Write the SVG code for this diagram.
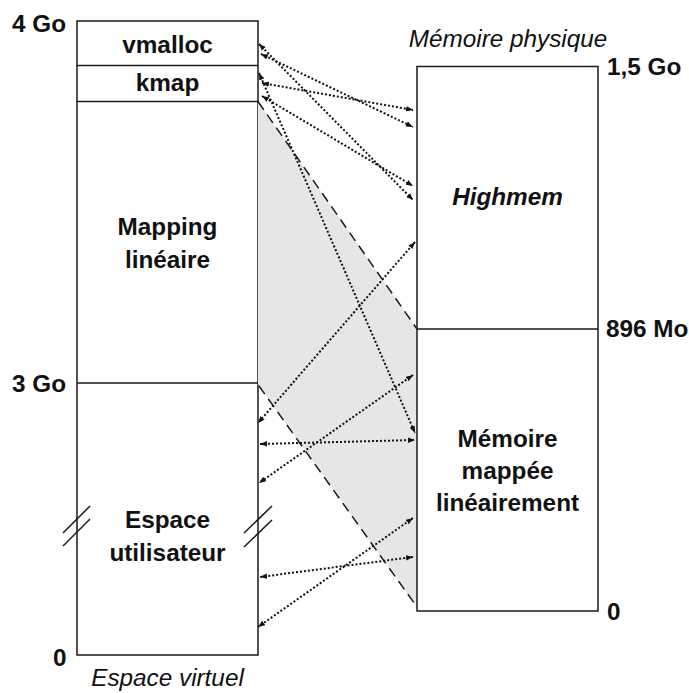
<svg xmlns="http://www.w3.org/2000/svg" width="689" height="693" viewBox="0 0 689 693">
<defs>
<style>
.box{fill:#fff;stroke:#1a1a1a;stroke-width:1.5}
.sep{stroke:#1a1a1a;stroke-width:1.5;fill:none}
.t{font-family:"Liberation Sans",Arial,sans-serif;font-size:24.3px;fill:#111}
.b{font-weight:bold}
.i{font-style:italic}
.c{text-anchor:middle}
.dash{stroke:#1a1a1a;stroke-width:1.5;stroke-dasharray:10 6;fill:none}
.arr{stroke:#111;stroke-width:2;stroke-dasharray:2 2;fill:none;marker-start:url(#ah);marker-end:url(#ah)}
</style>
<marker id="ah" markerUnits="userSpaceOnUse" markerWidth="8" markerHeight="6" refX="7" refY="3" orient="auto-start-reverse" viewBox="0 0 8 6">
<path d="M0,0.3 L7,3 L0,5.7 z" fill="#111"/>
</marker>
</defs>
<rect width="689" height="693" fill="#fff"/>

<g id="virtual-space">
<rect class="box" x="77" y="21" width="181" height="634"/>
<line class="sep" x1="77" y1="65.5" x2="258" y2="65.5"/>
<line class="sep" x1="77" y1="101.5" x2="258" y2="101.5"/>
<line class="sep" x1="77" y1="383" x2="258" y2="383"/>
<line class="sep" x1="63" y1="533" x2="90" y2="506"/>
<line class="sep" x1="63" y1="546" x2="90" y2="519"/>
<line class="sep" x1="244" y1="533" x2="272" y2="506"/>
<line class="sep" x1="244" y1="547" x2="272" y2="520"/>
</g>

<g id="shade">
<polygon points="258,101.5 417,329 417,607 258,384" fill="#e6e6e6"/>
</g>

<g id="physical-memory">
<rect class="box" x="417" y="66.5" width="181" height="544.5"/>
<line class="sep" x1="417" y1="329" x2="598" y2="329"/>
</g>

<g id="labels">
<text class="t b" x="12" y="32">4 Go</text>
<text class="t b c" x="167.5" y="53">vmalloc</text>
<text class="t b c" x="167.5" y="91">kmap</text>
<text class="t b c" x="167.5" y="235">Mapping</text>
<text class="t b c" x="167.5" y="268">linéaire</text>
<text class="t b" x="12" y="392">3 Go</text>
<text class="t b c" x="167.5" y="528">Espace</text>
<text class="t b c" x="167.5" y="561">utilisateur</text>
<text class="t b" x="53" y="666">0</text>
<text class="t i c" x="167.5" y="686">Espace virtuel</text>
<text class="t i c" x="508" y="47">Mémoire physique</text>
<text class="t b" x="607" y="75">1,5 Go</text>
<text class="t b i c" x="507.5" y="205">Highmem</text>
<text class="t b" x="606" y="337">896 Mo</text>
<text class="t b c" x="507.5" y="447">Mémoire</text>
<text class="t b c" x="507.5" y="479">mappée</text>
<text class="t b c" x="507.5" y="511">linéairement</text>
<text class="t b" x="607" y="620">0</text>
</g>

<g id="connectors">
<line class="dash" x1="258" y1="101.5" x2="417" y2="329"/>
<line class="dash" x1="259" y1="386" x2="417" y2="607"/>
<line class="arr" x1="259" y1="44" x2="413" y2="200"/>
<line class="arr" x1="261" y1="54" x2="413" y2="127"/>
<line class="arr" x1="259" y1="73" x2="415" y2="433"/>
<line class="arr" x1="262" y1="83" x2="413" y2="110"/>
<line class="arr" x1="262" y1="96" x2="413" y2="186"/>
<line class="arr" x1="415" y1="242" x2="258" y2="423"/>
<line class="arr" x1="413" y1="375" x2="259" y2="483"/>
<line class="arr" x1="260" y1="444" x2="415" y2="440"/>
<line class="arr" x1="413" y1="518" x2="258" y2="627"/>
<line class="arr" x1="413" y1="557" x2="260" y2="577"/>
</g>
</svg>
